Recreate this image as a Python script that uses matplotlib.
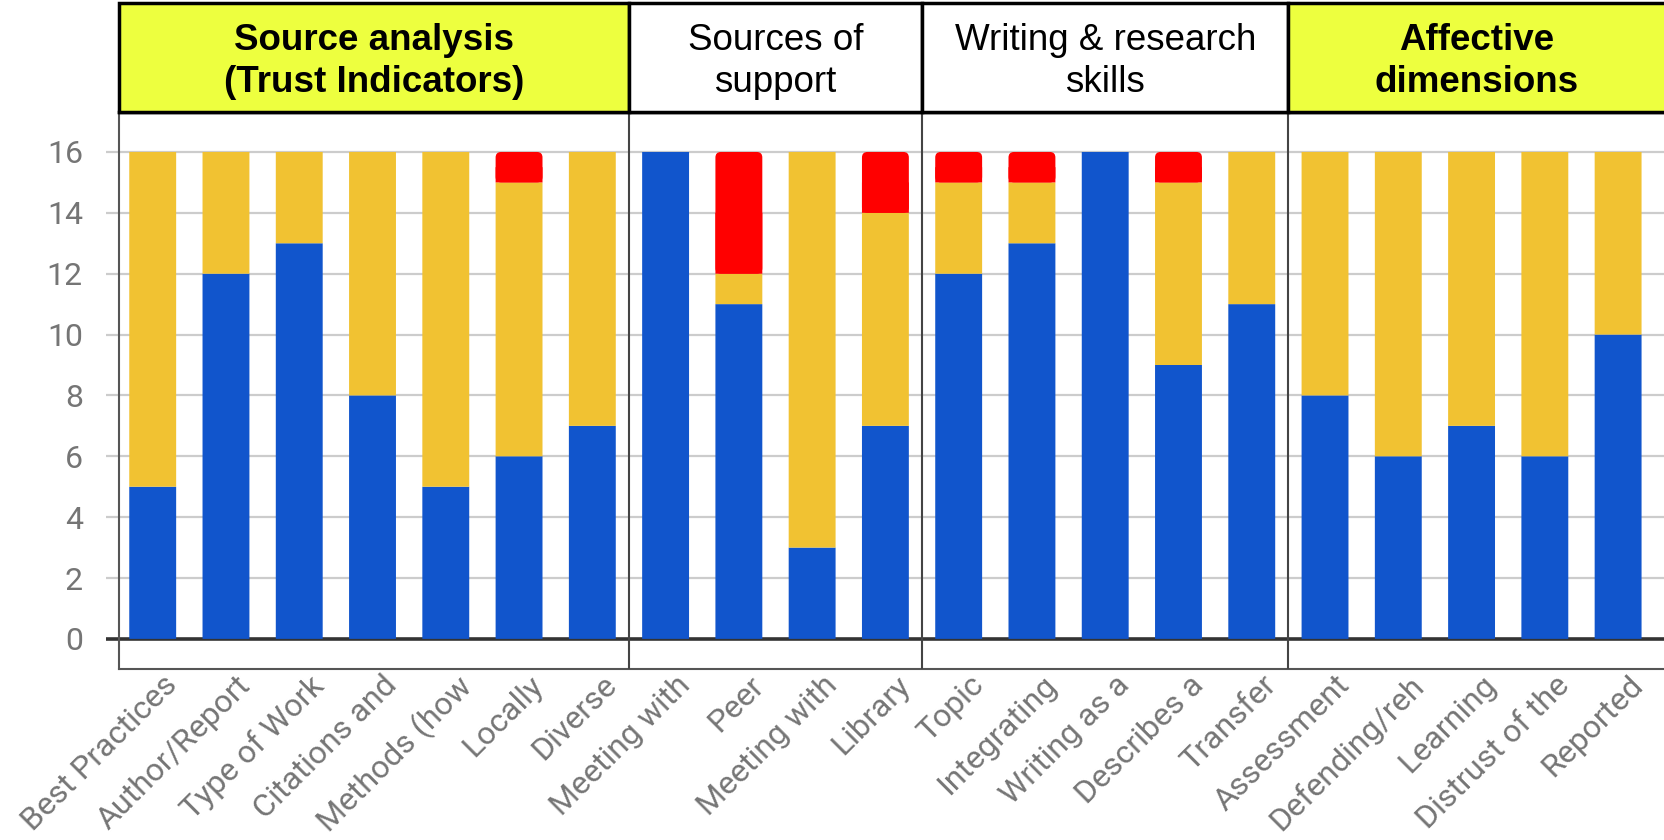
import matplotlib
matplotlib.use('Agg')
import matplotlib.pyplot as plt
from matplotlib.patches import Rectangle, FancyBboxPatch
import matplotlib.transforms as mtransforms
import numpy as np

categories = ["Best Practices", "Author/Report", "Type of Work", "Citations and", "Methods (how",
              "Locally", "Diverse",
              "Meeting with", "Peer", "Meeting with", "Library",
              "Topic", "Integrating", "Writing as a", "Describes a", "Transfer",
              "Assessment", "Defending/reh", "Learning", "Distrust of the", "Reported"]
blue = [5, 12, 13, 8, 5, 6, 7, 16, 11, 3, 7, 12, 13, 16, 9, 11, 8, 6, 7, 6, 10]
yellow = [11, 4, 3, 8, 11, 9, 9, 0, 1, 13, 7, 3, 2, 0, 6, 5, 8, 10, 9, 10, 6]
red = [0, 0, 0, 0, 0, 1, 0, 0, 4, 0, 2, 1, 1, 0, 1, 0, 0, 0, 0, 0, 0]
groups = ["Source analysis\n(Trust Indicators)", "Sources of\nsupport",
          "Writing & research\nskills", "Affective\ndimensions"]
group_sizes = [7, 4, 5, 5]
group_highlight = [True, False, False, True]
yticks = [0, 2, 4, 6, 8, 10, 12, 14, 16]

C_BLUE = '#1155cc'
C_YEL = '#f1c232'
C_RED = '#ff0000'
C_HEAD = '#edff3f'
C_TXT = '#757575'

W, H = 1665, 840
fig = plt.figure(figsize=(W / 100, H / 100), dpi=100)

ax_left = 119 / W
ax_bottom = 1 - 669 / H
ax_top = 1 - 111.5 / H
ax = fig.add_axes([ax_left, ax_bottom, 1 - ax_left, ax_top - ax_bottom])
axh = fig.add_axes([ax_left, ax_top, 1 - ax_left, (1 - 3 / H) - ax_top])

x = np.arange(len(categories))
xlim = (-0.46, 20.64)
ylim = (-0.99, 17.33)
ax.set_xlim(*xlim)
ax.set_ylim(*ylim)

# gridlines extending slightly left of the axis
for yv in yticks:
    if yv == 0:
        ax.plot([-0.64, 22], [0, 0], color='#333333', lw=2.6, clip_on=False, zorder=1,
                solid_capstyle='butt')
    else:
        ax.plot([-0.64, 22], [yv, yv], color='#cccccc', lw=1.6, clip_on=False, zorder=0,
                solid_capstyle='butt')

bw = 0.64
b = np.array(blue)
yl = np.array(yellow)
r = np.array(red)
ax.bar(x, b, width=bw, color=C_BLUE, zorder=2, snap=False)
ax.bar(x, yl, bottom=b, width=bw, color=C_YEL, zorder=2, snap=False)

# red segments with slightly rounded top corners
ax_w_px = W * (1 - ax_left)
ax_h_px = H * (ax_top - ax_bottom)
px_x = ax_w_px / (xlim[1] - xlim[0])
px_y = ax_h_px / (ylim[1] - ylim[0])
aspect = px_x / px_y
rad = 5.5 / px_x
for xi, bi, yi, ri in zip(x, b, yl, r):
    if ri <= 0:
        continue
    base = bi + yi
    ax.bar(xi, ri * 0.5, bottom=base, width=bw, color=C_RED, zorder=2, snap=False,
           linewidth=0)
    ax.add_patch(FancyBboxPatch((xi - bw / 2, base), bw, ri,
                                boxstyle=f"round,pad=0,rounding_size={rad}",
                                mutation_aspect=aspect, facecolor=C_RED,
                                edgecolor='none', linewidth=0, zorder=2))

# group boundaries
bounds = [xlim[0]]
acc = 0
for gs in group_sizes:
    acc += gs
    bounds.append(acc - 0.5)
bounds[-1] = 21.5
for bx in bounds[1:-1]:
    ax.axvline(bx, color='#444444', lw=1.5, zorder=3)

ax.set_yticks(yticks)
ax.set_yticklabels([str(v) for v in yticks], fontsize=23, color=C_TXT, family='Roboto')
ax.tick_params(axis='y', length=0, pad=26)
ax.set_xticks(x)
ax.set_xticklabels(categories, rotation=45, ha='right', va='top', rotation_mode='anchor',
                   fontsize=23, color=C_TXT, family='Roboto')
ax.tick_params(axis='x', length=0, pad=1)
offset = mtransforms.ScaledTranslation(10 / 100, 0, fig.dpi_scale_trans)
for lab in ax.get_xticklabels():
    lab.set_transform(lab.get_transform() + offset)

for s in ['left', 'bottom']:
    ax.spines[s].set_color('#555555')
    ax.spines[s].set_linewidth(1.5)
ax.spines['top'].set_color('black')
ax.spines['top'].set_linewidth(2.5)
ax.spines['right'].set_visible(False)

# header
axh.set_xlim(*xlim)
axh.set_ylim(0, 1)
axh.axis('off')
for i, g in enumerate(groups):
    x0, x1 = bounds[i], bounds[i + 1]
    axh.add_patch(Rectangle((x0, 0), x1 - x0, 1, facecolor=C_HEAD if group_highlight[i] else 'white',
                            edgecolor='black', lw=2.5, clip_on=False))
    cx = (x0 + min(x1, xlim[1])) / 2
    axh.text(cx, 0.46, g, ha='center', va='center', fontsize=26.5, linespacing=1.25,
             fontweight='bold' if group_highlight[i] else 'normal',
             family='Liberation Sans', color='black')

fig.savefig('out.png', dpi=100)
